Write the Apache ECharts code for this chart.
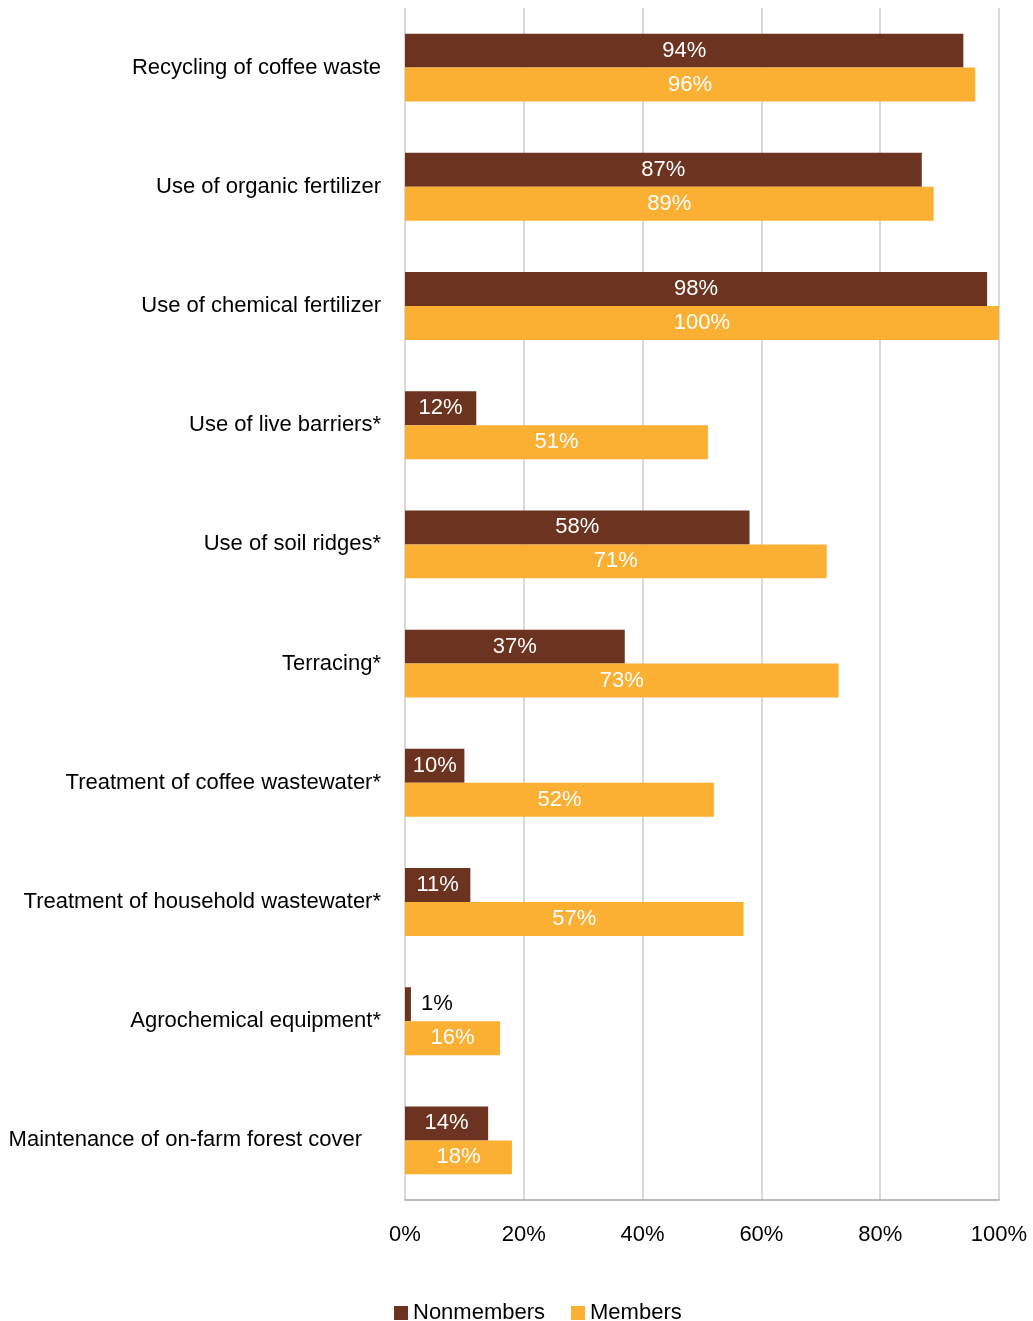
<!DOCTYPE html>
<html><head><meta charset="utf-8">
<script src="https://cdn.jsdelivr.net/npm/echarts@6/dist/echarts.min.js"></script>
<style>html,body{margin:0;padding:0;background:#fff}#c{width:1033px;height:1321px}</style>
</head><body><div id="c"></div>
<script>
const categories = ["Recycling of coffee waste","Use of organic fertilizer","Use of chemical fertilizer","Use of live barriers*","Use of soil ridges*","Terracing*","Treatment of coffee wastewater*","Treatment of household wastewater*","Agrochemical equipment*","Maintenance of on-farm forest cover"];
const nonmembers = [94,87,98,12,58,37,10,11,1,14];
const members = [96,89,100,51,71,73,52,57,16,18];
const xTicks = [0,20,40,60,80,100];
const FONT = '"Liberation Sans Narrow","Arial Narrow","Liberation Sans",sans-serif';
const FS = 22;
const chart = echarts.init(document.getElementById('c'));
function lbl(){
  return {show:true, position:'inside', color:'#fff', fontFamily:FONT, fontSize:FS, formatter:p=>p.value+'%'};
}
chart.setOption({
  animation:false,
  grid:{left:405,right:34,top:8,bottom:121,containLabel:false,outerBoundsMode:'none'},
  legend:{top:1297,left:389,itemWidth:14,itemHeight:14,itemGap:26,icon:'rect',
    textStyle:{fontFamily:FONT,fontSize:FS,color:'#000'},data:['Nonmembers','Members']},
  xAxis:{type:'value',min:0,max:100,interval:20,
    axisLine:{show:true,lineStyle:{color:'#a6a6a6',width:1.5}},
    axisTick:{show:false},
    splitLine:{show:true,lineStyle:{color:'#d9d9d9',width:2}},
    axisLabel:{fontFamily:FONT,fontSize:FS,color:'#000',margin:24,formatter:v=>v+'%'}},
  yAxis:{type:'category',data:categories,inverse:true,
    axisLine:{show:false},axisTick:{show:false},
    axisLabel:{fontFamily:FONT,fontSize:FS,color:'#000',margin:24,
      formatter:(v,i)=> i===categories.length-1 ? '{p|'+v+'}' : v,
      rich:{p:{fontFamily:FONT,fontSize:FS,color:'#000',padding:[0,19,0,0]}}}},
  series:[
    {name:'Nonmembers',type:'bar',data:nonmembers.map(v=>v<5?{value:v,label:{position:'right',distance:10,color:'#000'}}:v),
     itemStyle:{color:'#6B3320'},barGap:'0%',barCategoryGap:'43%',label:lbl()},
    {name:'Members',type:'bar',data:members,itemStyle:{color:'#FBB034'},barGap:'0%',barCategoryGap:'43%',label:lbl()}
  ]
});
</script></body></html>
